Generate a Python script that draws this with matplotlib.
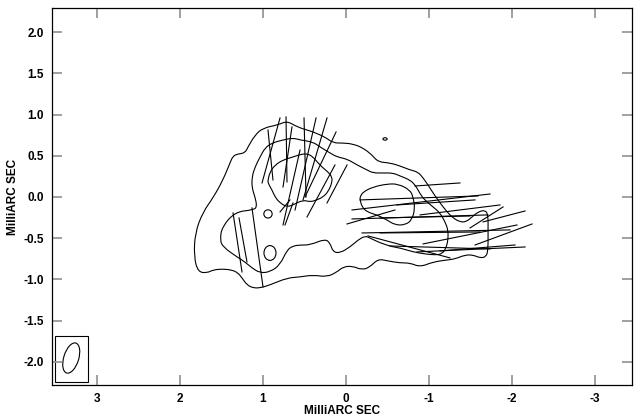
import matplotlib
matplotlib.use("Agg")
import matplotlib.pyplot as plt
from matplotlib.patches import Ellipse, Rectangle, PathPatch
from matplotlib.path import Path
import numpy as np

plt.rcParams['font.family'] = ['Liberation Sans', 'DejaVu Sans']
plt.rcParams['axes.unicode_minus'] = False

# contour levels (MilliARC SEC)
outer_x = [0.711, 0.590, 0.434, 0.398, 0.253, 0.157, 0.036, -0.084, -0.205, -0.313, -0.386, -0.530,
           -0.651, -0.771, -0.867, -0.928, -0.988, -1.048, -1.133, -1.217, -1.289, -1.373, -1.446,
           -1.518, -1.590, -1.675, -1.711, -1.711, -1.711, -1.687, -1.614, -1.530, -1.434, -1.313,
           -1.217, -1.048, -0.892, -0.771, -0.651, -0.506, -0.386, -0.289, -0.193, -0.072, 0.036,
           0.108, 0.229, 0.398, 0.554, 0.711, 0.916, 1.036, 1.120, 1.193, 1.253, 1.301, 1.373, 1.494,
           1.602, 1.675, 1.783, 1.831, 1.819, 1.723, 1.602, 1.482, 1.398, 1.361, 1.301, 1.217, 1.181,
           1.096, 1.000, 0.819, 0.711]
outer_y = [0.922, 0.850, 0.801, 0.789, 0.728, 0.655, 0.655, 0.643, 0.595, 0.510, 0.425, 0.413,
           0.376, 0.328, 0.303, 0.231, 0.146, 0.049, -0.073, -0.182, -0.255, -0.303, -0.303,
           -0.243, -0.182, -0.158, -0.218, -0.400, -0.643, -0.728, -0.740, -0.704, -0.704, -0.752,
           -0.765, -0.789, -0.850, -0.801, -0.801, -0.777, -0.752, -0.850, -0.886, -0.837, -0.850,
           -0.910, -0.971, -0.947, -0.971, -0.983, -1.068, -1.104, -1.104, -1.068, -0.983, -0.922,
           -0.886, -0.874, -0.886, -0.922, -0.910, -0.728, -0.437, -0.182, -0.012, 0.206, 0.413,
           0.498, 0.522, 0.534, 0.607, 0.752, 0.837, 0.874, 0.922]

mid_x = [0.554, 0.398, 0.313, 0.193, 0.108, -0.012, -0.133, -0.253, -0.325, -0.446, -0.566, -0.651,
         -0.771, -0.831, -0.867, -0.916, -0.976, -1.048, -1.133, -1.193, -1.229, -1.229, -1.205,
         -1.157, -1.072, -0.952, -0.807, -0.651, -0.566, -0.410, -0.289, -0.229, -0.145, -0.048,
         0.072, 0.157, 0.193, 0.253, 0.434, 0.554, 0.639, 0.711, 0.795, 0.916, 1.036, 1.133, 1.217,
         1.313, 1.482, 1.518, 1.494, 1.337, 1.120, 1.072, 1.096, 1.133, 1.133, 1.096, 1.036, 0.976,
         0.892, 0.759, 0.639, 0.554]
mid_y = [0.692, 0.667, 0.607, 0.534, 0.485, 0.461, 0.388, 0.328, 0.291, 0.291, 0.291, 0.255,
         0.206, 0.146, 0.085, 0.000, -0.061, -0.121, -0.194, -0.303, -0.400, -0.522, -0.619,
         -0.692, -0.704, -0.692, -0.667, -0.619, -0.607, -0.558, -0.498, -0.473, -0.522, -0.607,
         -0.680, -0.667, -0.558, -0.510, -0.583, -0.583, -0.595, -0.643, -0.825, -0.910, -0.922,
         -0.862, -0.789, -0.728, -0.607, -0.522, -0.364, -0.182, -0.158, -0.121, 0.000, 0.109,
         0.243, 0.364, 0.485, 0.595, 0.655, 0.692, 0.716, 0.692]

core_x = [0.940, 0.916, 0.855, 0.759, 0.639, 0.530, 0.458, 0.398, 0.337, 0.277, 0.217, 0.169, 0.169,
          0.217, 0.277, 0.349, 0.434, 0.518, 0.639, 0.711, 0.795, 0.855, 0.892, 0.940, 0.940]
core_y = [0.206, 0.303, 0.388, 0.449, 0.485, 0.522, 0.522, 0.485, 0.413, 0.352, 0.303, 0.243, 0.170,
          0.061, 0.000, -0.036, -0.061, -0.036, -0.097, -0.121, -0.073, 0.000, 0.085, 0.170, 0.206]

knot_x = [-0.169, -0.205, -0.325, -0.494, -0.627, -0.771, -0.807, -0.831, -0.795, -0.711, -0.590,
          -0.494, -0.373, -0.253, -0.193, -0.169, -0.169]
knot_y = [0.000, 0.061, 0.121, 0.158, 0.158, 0.085, 0.000, -0.133, -0.279, -0.340, -0.340,
          -0.279, -0.218, -0.182, -0.121, -0.036, 0.000]

# small closed contours: centre x, centre y, width, height
blob_x = [0.940, 0.916, -0.470]
blob_y = [-0.206, -0.680, 0.704]
blob_w = [0.10, 0.145, 0.05]
blob_h = [0.10, 0.18, 0.03]

# polarization vectors, end points (MilliARC SEC)
vec_x0 = [0.940, 0.795, 0.723, 0.651, 0.506, 0.361, 0.229, 0.120, 0.554, 0.133, -0.012, 0.675,
          0.639, 1.361, 1.289, 1.133,
          -0.831, -0.169, -0.072, -0.614, -0.072, -0.012, -0.410, -1.494, -1.651, -0.193, -0.410,
          -0.928, -1.554, -0.530, -0.855, -1.133, -0.265, -0.892]
vec_y0 = [0.813, 0.959, 0.971, 0.850, 0.959, 0.959, 0.959, 0.789, 0.570, 0.388, 0.388, -0.036,
          -0.073, -0.194, -0.255, -0.133,
          0.133, -0.036, -0.158, -0.097, -0.267, -0.328, -0.255, -0.376, -0.303, -0.437, -0.437,
          -0.570, -0.583, -0.595, -0.667, -0.655, -0.473, -0.218]
vec_x1 = [0.880, 1.012, 0.711, 0.759, 0.482, 0.614, 0.518, 0.494, 0.759, 0.470, 0.229, 0.795,
          0.735, 1.253, 1.193, 1.000,
          -1.373, -1.590, -1.735, -1.554, -1.711, -0.590, -1.494, -1.892, -2.157, -1.976, -1.614,
          -2.060, -2.241, -1.735, -2.157, -2.036, -1.253, -1.855]
vec_y1 = [0.206, 0.170, 0.182, 0.121, 0.000, -0.158, -0.036, 0.000, -0.340, -0.243, -0.073, -0.182,
          -0.340, -0.910, -0.789, -1.092,
          0.170, 0.012, 0.036, -0.036, -0.218, -0.158, -0.231, -0.121, -0.170, -0.400, -0.425,
          -0.340, -0.328, -0.631, -0.607, -0.583, -0.740, -0.097]

# restoring beam
beam_x, beam_y = 3.31, -1.955
beam_major, beam_minor, beam_pa = 0.38, 0.18, 107


def smooth_loop(xs, ys):
    # closed curve: traced points as quadratic bezier control points
    p = np.column_stack([xs, ys])
    if np.allclose(p[0], p[-1]):
        p = p[:-1]
    m = (p + np.roll(p, -1, axis=0)) / 2
    verts = [m[-1]]
    codes = [Path.MOVETO]
    for i in range(len(p)):
        verts += [p[i], m[i]]
        codes += [Path.CURVE3, Path.CURVE3]
    return Path(verts, codes)


fig = plt.figure(figsize=(6.34, 4.18), dpi=100)
ax = fig.add_axes([0.082, 0.079, 0.915, 0.902])

for cx, cy in [(outer_x, outer_y), (mid_x, mid_y), (core_x, core_y), (knot_x, knot_y)]:
    ax.add_patch(PathPatch(smooth_loop(cx, cy), fill=False, edgecolor='black', lw=0.8))

for bx, by, bw, bh in zip(blob_x, blob_y, blob_w, blob_h):
    ax.add_patch(Ellipse((bx, by), bw, bh, fill=False, color='black', lw=0.8))

for x0, y0, x1, y1 in zip(vec_x0, vec_y0, vec_x1, vec_y1):
    ax.plot([x0, x1], [y0, y1], color='black', lw=0.8)

ax.add_patch(Rectangle((3.506, -2.245), -0.398, 0.558, fill=False, color='black', lw=0.8))
ax.add_patch(Ellipse((beam_x, beam_y), beam_major, beam_minor, angle=beam_pa,
                     fill=False, color='black', lw=0.8))

ax.set_xlim(3.542, -3.446)
ax.set_ylim(-2.282, 2.294)
ax.set_xticks([3, 2, 1, 0, -1, -2, -3])
ax.set_xticklabels(['3', '2', '1', '0', '-1', '-2', '-3'])
ax.set_yticks(np.arange(-2.0, 2.01, 0.5))
ax.set_yticklabels(['%.1f' % v for v in np.arange(-2.0, 2.01, 0.5)])
ax.tick_params(direction='in', length=7, width=1.3, color='#999999', top=True, right=True,
               labelsize=8.5)
ax.tick_params(axis='x', pad=6)
ax.tick_params(axis='y', pad=6)
for lab in ax.get_xticklabels() + ax.get_yticklabels():
    lab.set_fontweight('bold')
for s in ax.spines.values():
    s.set_linewidth(0.9)

ax.set_xlabel('MilliARC SEC', fontsize=8.5, fontweight='bold', labelpad=0)
ax.set_ylabel('MilliARC SEC', fontsize=8.5, fontweight='bold', labelpad=3)

plt.savefig('out.png', dpi=100)
